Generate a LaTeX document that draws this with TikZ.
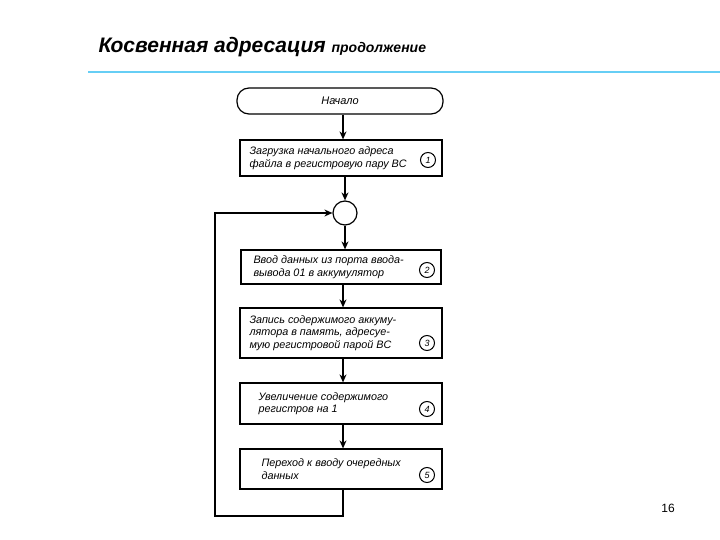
\documentclass[tikz,border=0pt]{standalone}
\usepackage{fontspec}
\setmainfont{Liberation Sans}
\usetikzlibrary{arrows.meta}
\begin{document}
\begin{tikzpicture}[x=1pt,y=-1pt,
  blk/.style={draw,line width=1.2pt,minimum width=202pt,inner sep=0pt},
  txt/.style={font=\fontsize{10.8}{12.5}\selectfont\itshape,align=left,anchor=west},
  num/.style={draw,circle,line width=1pt,inner sep=1pt,minimum size=15pt,font=\fontsize{9}{9}\selectfont\itshape},
  arr/.style={line width=1.2pt,-{Stealth[length=8pt,width=7pt]}}]
\useasboundingbox (0,0) rectangle (720,540);
\node[anchor=base west,font=\fontsize{21}{21}\selectfont\bfseries\itshape] (t) at (95,53) {Косвенная адресация \fontsize{14}{14}\selectfont продолжение};
\draw[color=cyan!60,line width=1.5pt] (88,72) -- (720,72);
\node[draw,line width=1.2pt,rounded corners=12pt,minimum width=206pt,minimum height=26pt,font=\fontsize{11}{12}\selectfont\itshape] (s) at (340,101) {Начало};
\node[blk,minimum height=36pt] (b1) at (341,158) {};
\node[txt] at (246,158) {Загрузка начального адреса\\файла в регистровую пару BC};
\node[num] at (428,160) {1};
\node[draw,circle,line width=1.2pt,minimum size=24pt,inner sep=0pt] (c) at (345,213) {};
\node[blk,minimum height=34pt,minimum width=200pt] (b2) at (341,267) {};
\node[txt] at (250,267) {Ввод данных из порта ввода-\\вывода 01 в аккумулятор};
\node[num] at (427,270) {2};
\node[blk,minimum height=50pt] (b3) at (341,333) {};
\node[txt] at (246,333) {Запись содержимого аккуму-\\лятора в память, адресуе-\\мую регистровой парой BC};
\node[num] at (427,343) {3};
\node[blk,minimum height=41pt] (b4) at (341,403.5) {};
\node[txt] at (255,403.5) {Увеличение содержимого\\регистров на 1};
\node[num] at (427,409) {4};
\node[blk,minimum height=40pt] (b5) at (341,469) {};
\node[txt] at (258,469) {Переход к вводу очередных\\данных};
\node[num] at (427,475) {5};
\node[font=\fontsize{12}{12}\selectfont] (p) at (668,508) {16};
\coordinate (l1) at (343,516);
\coordinate (l2) at (215,516);
\coordinate (l3) at (215,213);
\draw[arr] (s.south -| 343,0) -- (b1.north -| 343,0);
\draw[arr] (b1.south -| 345,0) -- (c.north);
\draw[arr] (c.south) -- (b2.north -| 345,0);
\draw[arr] (b2.south -| 343,0) -- (b3.north -| 343,0);
\draw[arr] (b3.south -| 343,0) -- (b4.north -| 343,0);
\draw[arr] (b4.south -| 343,0) -- (b5.north -| 343,0);
\draw[arr] (b5.south -| 343,0) -- (l1) -- (l2) -- (l3) -- (c.west);
\end{tikzpicture}
\end{document}
